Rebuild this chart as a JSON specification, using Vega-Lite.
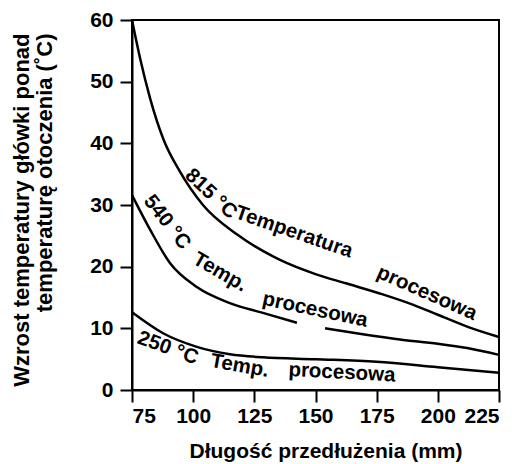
{
  "$schema": "https://vega.github.io/schema/vega-lite/v6.json",
  "autosize": {"type": "none"},
  "width": 367,
  "height": 370,
  "padding": {"left": 132, "top": 20, "right": 18, "bottom": 74},
  "background": "white",
  "config": {
    "font": "Liberation Sans",
    "view": {"stroke": "black", "strokeWidth": 2},
    "axis": {
      "domainColor": "black", "domainWidth": 2, "tickColor": "black", "tickWidth": 2,
      "tickSize": 12, "grid": false, "labelFont": "Liberation Sans", "labelFontWeight": "bold",
      "labelFontSize": 21, "labelColor": "black", "titleFont": "Liberation Sans",
      "titleFontWeight": "bold", "titleFontSize": 21, "titleColor": "black"
    },
    "text": {"font": "Liberation Sans", "fontWeight": "bold", "fontSize": 20.5, "color": "black"}
  },
  "datasets": {
    "curves": [
      {"series": "815", "seg": "a", "x": 75, "y": 60},
      {"series": "815", "seg": "a", "x": 78.3, "y": 53.8},
      {"series": "815", "seg": "a", "x": 82.4, "y": 47.3},
      {"series": "815", "seg": "a", "x": 87.8, "y": 40.7},
      {"series": "815", "seg": "a", "x": 94.6, "y": 35.4},
      {"series": "815", "seg": "a", "x": 104, "y": 30},
      {"series": "815", "seg": "a", "x": 118, "y": 25.2},
      {"series": "815", "seg": "a", "x": 135.5, "y": 21.1},
      {"series": "815", "seg": "a", "x": 150, "y": 18.8},
      {"series": "815", "seg": "a", "x": 162.5, "y": 17.3},
      {"series": "815", "seg": "a", "x": 177.5, "y": 15.5},
      {"series": "815", "seg": "a", "x": 190, "y": 13.8},
      {"series": "815", "seg": "a", "x": 200, "y": 12.2},
      {"series": "815", "seg": "a", "x": 212.5, "y": 10.2},
      {"series": "815", "seg": "a", "x": 225, "y": 8.6},
      {"series": "540", "seg": "a", "x": 75, "y": 31.6},
      {"series": "540", "seg": "a", "x": 82.4, "y": 26},
      {"series": "540", "seg": "a", "x": 90.5, "y": 20.6},
      {"series": "540", "seg": "a", "x": 101.5, "y": 16.7},
      {"series": "540", "seg": "a", "x": 115, "y": 14.1},
      {"series": "540", "seg": "a", "x": 128.5, "y": 12.5},
      {"series": "540", "seg": "a", "x": 142.4, "y": 10.9},
      {"series": "540", "seg": "b", "x": 153.9, "y": 10},
      {"series": "540", "seg": "b", "x": 170, "y": 9},
      {"series": "540", "seg": "b", "x": 184.5, "y": 8.2},
      {"series": "540", "seg": "b", "x": 200, "y": 7.5},
      {"series": "540", "seg": "b", "x": 212, "y": 6.8},
      {"series": "540", "seg": "b", "x": 225, "y": 5.7},
      {"series": "250", "seg": "a", "x": 75, "y": 12.6},
      {"series": "250", "seg": "a", "x": 87.7, "y": 9.2},
      {"series": "250", "seg": "a", "x": 101.5, "y": 7},
      {"series": "250", "seg": "a", "x": 115, "y": 5.8},
      {"series": "250", "seg": "a", "x": 128.5, "y": 5.3},
      {"series": "250", "seg": "a", "x": 150, "y": 5.0},
      {"series": "250", "seg": "a", "x": 175, "y": 4.6},
      {"series": "250", "seg": "a", "x": 200, "y": 3.7},
      {"series": "250", "seg": "a", "x": 225, "y": 2.8}
    ]
  },
  "layer": [
    {
      "data": {"name": "curves"},
      "mark": {"type": "line", "color": "black", "strokeWidth": 2.5, "interpolate": "monotone"},
      "encoding": {
        "x": {
          "field": "x", "type": "quantitative",
          "scale": {"domain": [75, 225], "nice": false, "zero": false},
          "axis": {"values": [75, 100, 125, 150, 175, 200, 225], "title": "Długość przedłużenia (mm)", "labelPadding": 3, "titleX": 193.5, "titleY": 67, "titleBaseline": "alphabetic", "titleAlign": "center"}
        },
        "y": {
          "field": "y", "type": "quantitative",
          "scale": {"domain": [0, 60], "nice": false},
          "axis": {"values": [0, 10, 20, 30, 40, 50, 60], "title": ["Wzrost temperatury główki ponad", "temperaturę otoczenia (˚C)"], "titleFontSize": 22, "labelPadding": 7, "titleAngle": -90, "titleX": -121, "titleY": 13, "titleAlign": "right", "titleBaseline": "top", "titleLineHeight": 23}
        },
        "detail": [{"field": "series"}, {"field": "seg"}]
      }
    },
    {
      "data": {"values": [{"label": "815 °C", "x": 107.3, "y": 31.8}]},
      "mark": {"type": "text", "angle": 43},
      "encoding": {"x": {"field": "x", "type": "quantitative"}, "y": {"field": "y", "type": "quantitative"}, "text": {"field": "label"}}
    },
    {
      "data": {"values": [{"label": "Temperatura", "x": 141.2, "y": 25.6}]},
      "mark": {"type": "text", "angle": 19},
      "encoding": {"x": {"field": "x", "type": "quantitative"}, "y": {"field": "y", "type": "quantitative"}, "text": {"field": "label"}}
    },
    {
      "data": {"values": [{"label": "procesowa", "x": 195.5, "y": 15.7}]},
      "mark": {"type": "text", "angle": 24},
      "encoding": {"x": {"field": "x", "type": "quantitative"}, "y": {"field": "y", "type": "quantitative"}, "text": {"field": "label"}}
    },
    {
      "data": {"values": [{"label": "540 °C", "x": 89.3, "y": 27.2}]},
      "mark": {"type": "text", "angle": 52},
      "encoding": {"x": {"field": "x", "type": "quantitative"}, "y": {"field": "y", "type": "quantitative"}, "text": {"field": "label"}}
    },
    {
      "data": {"values": [{"label": "Temp.", "x": 111, "y": 19.1}]},
      "mark": {"type": "text", "angle": 30},
      "encoding": {"x": {"field": "x", "type": "quantitative"}, "y": {"field": "y", "type": "quantitative"}, "text": {"field": "label"}}
    },
    {
      "data": {"values": [{"label": "procesowa", "x": 149.8, "y": 13.0}]},
      "mark": {"type": "text", "angle": 12},
      "encoding": {"x": {"field": "x", "type": "quantitative"}, "y": {"field": "y", "type": "quantitative"}, "text": {"field": "label"}}
    },
    {
      "data": {"values": [{"label": "250 °C", "x": 89.7, "y": 6.8}]},
      "mark": {"type": "text", "angle": 20},
      "encoding": {"x": {"field": "x", "type": "quantitative"}, "y": {"field": "y", "type": "quantitative"}, "text": {"field": "label"}}
    },
    {
      "data": {"values": [{"label": "Temp.", "x": 119, "y": 3.9}]},
      "mark": {"type": "text", "angle": 10},
      "encoding": {"x": {"field": "x", "type": "quantitative"}, "y": {"field": "y", "type": "quantitative"}, "text": {"field": "label"}}
    },
    {
      "data": {"values": [{"label": "procesowa", "x": 160.8, "y": 2.8}]},
      "mark": {"type": "text", "angle": 3},
      "encoding": {"x": {"field": "x", "type": "quantitative"}, "y": {"field": "y", "type": "quantitative"}, "text": {"field": "label"}}
    }
  ]
}
